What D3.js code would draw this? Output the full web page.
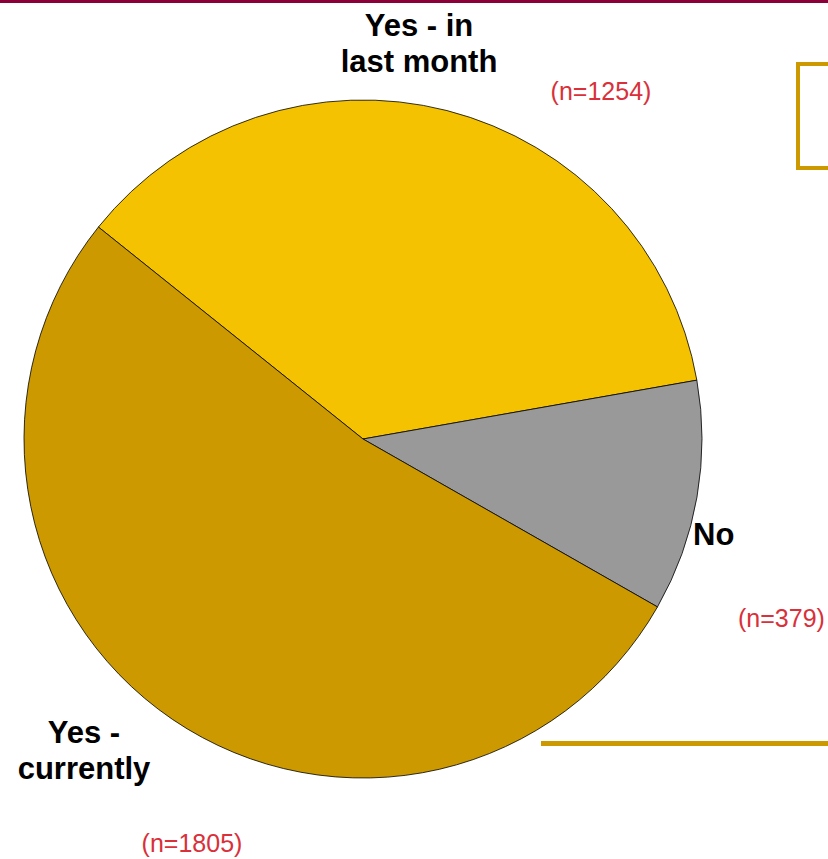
<!DOCTYPE html>
<html>
<head>
<meta charset="utf-8">
<script src="https://cdn.jsdelivr.net/npm/d3@7"></script>
<style>
  body { margin: 0; background: #fff; }
  svg { display: block; font-family: "Liberation Sans", Arial, sans-serif; }
</style>
</head>
<body>
<div id="chart"></div>
<script>
// slices in drawing order (clockwise, starting upper-left)
var categories = ["Yes - in last month", "No", "Yes - currently"];
var counts = [1254, 379, 1805];
var colors = ["#f4c200", "#999999", "#cc9900"];
var nameLines = [["Yes - in", "last month"], ["No"], ["Yes -", "currently"]];

var width = 828, height = 859;
var cx = 363, cy = 439, radius = 339;

var svg = d3.select("#chart").append("svg")
  .attr("width", width)
  .attr("height", height);

// top rule
svg.append("rect")
  .attr("x", 0).attr("y", 0)
  .attr("width", width).attr("height", 3)
  .style("fill", "#8b0038");

// decorative box (cut off at the right edge) and bottom rule
svg.append("rect")
  .attr("x", 798).attr("y", 64)
  .attr("width", 60).attr("height", 104)
  .style("fill", "none")
  .style("stroke", "#cc9900")
  .style("stroke-width", 4);

svg.append("rect")
  .attr("x", 541).attr("y", 741)
  .attr("width", width - 541).attr("height", 5)
  .style("fill", "#cc9900");

var startOffset = -51.3 * Math.PI / 180;

var pie = d3.pie()
  .sort(null)
  .value(d => d)
  .startAngle(startOffset)
  .endAngle(startOffset + 2 * Math.PI);

var arc = d3.arc().innerRadius(0).outerRadius(radius);

var g = svg.append("g")
  .attr("transform", `translate(${cx},${cy})`);

g.selectAll("path")
  .data(pie(counts))
  .join("path")
    .attr("d", arc)
    .style("fill", (d, i) => colors[i])
    .style("stroke", "#000")
    .style("stroke-width", 0.8);

// label positions (name block anchor, count anchor)
var labelPos = [
  { x: 419, y: 36, nx: 601, ny: 100, anchor: "middle" },
  { x: 693, y: 545, nx: 738, ny: 627, anchor: "start" },
  { x: 84, y: 743, nx: 192, ny: 852, anchor: "middle" }
];

categories.forEach(function(c, i) {
  var p = labelPos[i];
  var t = svg.append("text")
    .attr("x", p.x).attr("y", p.y)
    .attr("text-anchor", p.anchor)
    .style("font-size", "31px")
    .style("font-weight", "bold")
    .style("fill", "#000");
  nameLines[i].forEach(function(line, j) {
    t.append("tspan")
      .attr("x", p.x)
      .attr("dy", j === 0 ? 0 : 36)
      .text(line);
  });
  svg.append("text")
    .attr("x", p.nx).attr("y", p.ny)
    .attr("text-anchor", p.anchor)
    .style("font-size", "25px")
    .style("fill", "#d9303a")
    .text(`(n=${counts[i]})`);
});
</script>
</body>
</html>
